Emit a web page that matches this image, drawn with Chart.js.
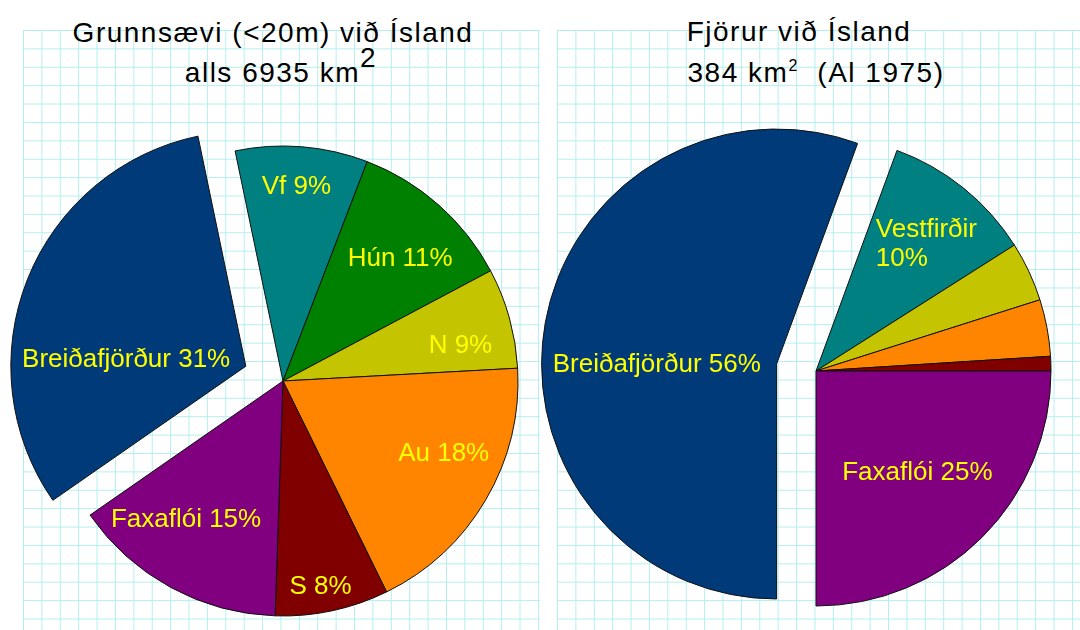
<!DOCTYPE html>
<html>
<head>
<meta charset="utf-8">
<script src="https://cdn.jsdelivr.net/npm/chart.js@4.4.1/dist/chart.umd.min.js"></script>
<style>
html,body{margin:0;padding:0;background:#fff;}
#stage{position:relative;width:1080px;height:630px;overflow:hidden;font-family:"Liberation Sans",Arial,sans-serif;}
.grid{position:absolute;top:30px;height:600px;
  background-image:linear-gradient(to right,#b4eeee 1px,transparent 1px),linear-gradient(to bottom,#b4eeee 1px,transparent 1px);
  background-size:18.4px 18.4px;}
#gridLeft{left:23px;width:517px;}
#gridRight{left:557px;width:523px;}
.line{position:absolute;width:540px;font-size:28px;line-height:28px;letter-spacing:1.5px;color:#000;white-space:nowrap;text-align:center;}
.raise{position:relative;}
canvas{position:absolute;left:0;top:0;}
</style>
</head>
<body>
<div id="stage">
  <div class="grid" id="gridLeft"></div>
  <div class="grid" id="gridRight"></div>

  <div class="line" style="left:3px;top:19px;">Grunnsævi (&lt;20m) við Ísland</div>
  <div class="line" style="left:11px;top:59px;">alls 6935 km<span class="raise" style="top:-15px;">2</span></div>

  <div class="line" style="left:529px;top:18px;">Fjörur við Ísland</div>
  <div class="line" style="left:546px;top:59px;">384 km<span class="raise" style="top:-11px;font-size:16px;">2</span>&nbsp; (Al 1975)</div>

  <canvas id="pieShallow" width="1080" height="630"></canvas>
  <canvas id="pieShore" width="1080" height="630"></canvas>
</div>

<script>
// =====================================
// DATA
// =====================================

const regions = [
    "Breiðafjörður",
    "Vestfirðir",
    "Húnaflói",
    "Norðurland",
    "Austurland",
    "Suðurland",
    "Faxaflói"
];

// shallow sea (<20m), percent of 6935 km2
const shallowShare = [31.4, 9.1, 11.4, 6.9, 18.6, 7.8, 14.8];

// shore, percent of 384 km2
const shoreShare = [55.6, 10.4, 0, 4.1, 3.9, 1.0, 25.0];

const shallowLabels = [
    "Breiðafjörður 31%",
    "Vf 9%",
    "Hún 11%",
    "N 9%",
    "Au 18%",
    "S 8%",
    "Faxaflói 15%"
];

const shoreLabels = [
    "Breiðafjörður 56%",
    ["Vestfirðir","10%"],
    "",
    "",
    "",
    "",
    "Faxaflói 25%"
];


// =====================================
// STYLE
// =====================================

const sliceColors = [
    "#003A78",
    "#008080",
    "#008000",
    "#C4C400",
    "#FF8500",
    "#800000",
    "#800080"
];

// pulled out slice (px)
const explodeDist = [40,0,0,0,0,0,0];

// label spot: [fraction of radius, angle nudge in degrees]
const shallowLabelPos = [
    [0.51,-18.6],
    [0.83,-0.7],
    [0.72,2.3],
    [0.77,4.2],
    [0.75,-6.1],
    [0.89,1.8],
    [0.72,6.4]
];

const shoreLabelPos = [
    [0.51,-10.5],
    [0.715,2.2],
    null,
    null,
    null,
    null,
    [0.61,0]
];


// =====================================
// PLUGINS
// =====================================

function explodePlugin(dist){

    return {
        id:"explode",
        afterDatasetUpdate(chart,args){

            args.meta.data.forEach((arc,i)=>{

                const d = dist[i];
                if(!d) return;

                const mid = (arc.startAngle + arc.endAngle) / 2;
                arc.x += Math.cos(mid) * d;
                arc.y += Math.sin(mid) * d;

            });

        }
    };

}


function labelPlugin(texts,positions){

    return {
        id:"sliceLabels",
        afterDatasetsDraw(chart){

            const ctx = chart.ctx;
            const meta = chart.getDatasetMeta(0);

            ctx.save();
            ctx.font = "26px 'Liberation Sans', Arial, sans-serif";
            ctx.fillStyle = "#FFFF00";
            ctx.textBaseline = "middle";
            ctx.textAlign = "left";

            meta.data.forEach((arc,i)=>{

                const text = texts[i];
                const pos = positions[i];
                if(!text || !pos) return;

                const ang = (arc.startAngle + arc.endAngle) / 2 + pos[1] * Math.PI / 180;
                const r = arc.outerRadius * pos[0];
                const cx = arc.x + Math.cos(ang) * r;
                const cy = arc.y + Math.sin(ang) * r;

                const lines = Array.isArray(text) ? text : [text];
                const w = Math.max(...lines.map(t=>ctx.measureText(t).width));

                lines.forEach((t,k)=>{
                    ctx.fillText(t, cx - w / 2, cy + (k - (lines.length - 1) / 2) * 29);
                });

            });

            ctx.restore();

        }
    };

}


// =====================================
// PIE CHARTS
// =====================================

function createPie(canvasId,values,rotation,padding,texts,positions){

    const canvas =
    document.getElementById(canvasId);

    return new Chart(canvas,{

        type:"pie",

        data:{
            labels:regions,
            datasets:[{
                data:values,
                backgroundColor:sliceColors,
                borderColor:"#111111",
                borderWidth:1,
                clip:false
            }]
        },

        options:{
            responsive:false,
            animation:false,
            rotation:rotation,
            radius:235,
            layout:{ padding:padding },
            plugins:{
                legend:{ display:false },
                tooltip:{ enabled:false },
                title:{ display:false }
            }
        },

        plugins:[
            explodePlugin(explodeDist),
            labelPlugin(texts,positions)
        ]

    });

}


createPie(
    "pieShallow",
    shallowShare,
    235.2,
    {left:0,right:514,top:132,bottom:0},
    shallowLabels,
    shallowLabelPos
);

createPie(
    "pieShore",
    shoreShare,
    180,
    {left:552,right:0,top:112,bottom:0},
    shoreLabels,
    shoreLabelPos
);
</script>
</body>
</html>
